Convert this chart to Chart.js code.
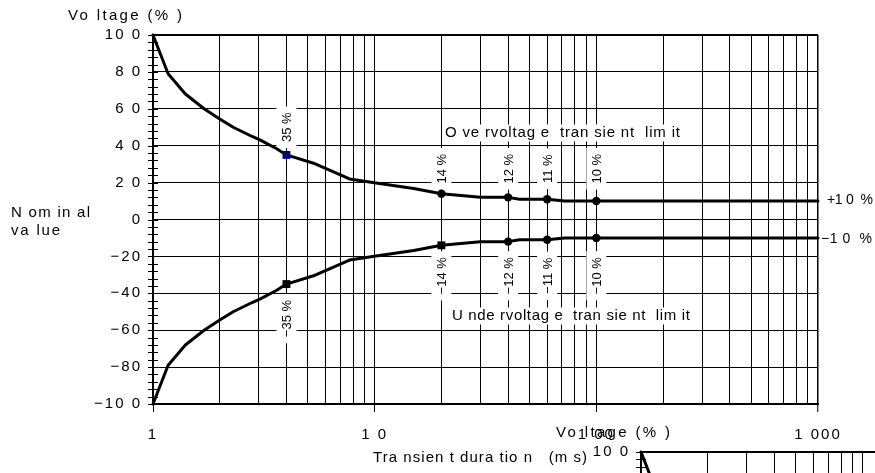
<!DOCTYPE html>
<html><head><meta charset="utf-8">
<script src="https://cdn.jsdelivr.net/npm/chart.js@4.4.1/dist/chart.umd.min.js"></script>
<style>
html,body{margin:0;padding:0;background:#fff;width:875px;height:473px;overflow:hidden;position:relative}
.wrap{position:absolute;width:875px;height:473px}
canvas{display:block}
</style></head><body>
<div class="wrap" style="left:0;top:0"><canvas id="c1" width="875" height="473"></canvas></div>
<div class="wrap" style="left:488px;top:417px"><canvas id="c2" width="875" height="473"></canvas></div>
<script>
// ---------------- data ----------------
const durations  = [1, 1.17, 1.4, 1.7, 2, 2.3, 2.8, 3.05, 3.6, 4, 5.3, 7.7, 10.5, 15, 20, 30, 40, 45, 60, 72, 100, 1000];
const overLimit  = [100, 79, 68, 60, 54.5, 50, 45, 43, 38.5, 35, 30.5, 22, 19.5, 16.8, 14, 12, 12, 11, 11, 10, 10, 10];
const underLimit = [-100, -79, -68, -60, -54.5, -50, -45, -43, -38.5, -35, -30.5, -22, -19.5, -16.8, -14, -12, -12, -11, -11, -10, -10, -10];
const markedDurations = [4, 20, 40, 60, 100];
const overMarkerStyles  = ['rect', 'circle', 'circle', 'circle', 'circle'];
const underMarkerStyles = ['rect', 'rect', 'circle', 'circle', 'circle'];
const xGridValues = [1, 2, 3, 4, 5, 6, 7, 8, 9, 10, 20, 30, 40, 50, 60, 70, 80, 90, 100, 200, 300, 400, 500, 600, 700, 800, 900, 1000];
const xTickValues = [1, 10, 100, 1000];
const xTickLabels = ['1', '1 0', '1 00', '1 000'];
const yTickValues = [100, 80, 60, 40, 20, 0, -20, -40, -60, -80, -100];
const yTickLabels = ['10 0', '8 0', '6 0', '4 0', '2 0', '0', '\u221220', '\u221240', '\u221260', '\u221280', '\u221210 0'];
const yMinorStep = 4;
const yAxisTitle = 'Vo ltage (% )';
const xAxisTitle = 'Tra nsien t dura tio n   (m s)';
const nominalLines = ['N om in al', 'va lue'];
const overText = 'O ve rvoltag e  tran sie nt  lim it';
const underText = 'U nde rvoltag e  tran sie nt  lim it';
const plusTenText = '+1 0  %';
const minusTenText = '\u22121 0  %';

// ---------------- styles ----------------
const FONT = "'Liberation Sans', Arial, Helvetica, sans-serif";
const labelCentersOver = [50, 27.5, 27.5, 27.5, 27.5];
const labelCentersUnder = [-53.7, -30.5, -30.5, -30.5, -30.5];

function fitText(ctx, text, left, cy, width, size) {
  ctx.font = size + 'px ' + FONT;
  ctx.letterSpacing = '0px';
  const w0 = ctx.measureText(text).width;
  const n = [...text].length;
  const ls = (width && n > 1) ? (width - w0) / (n - 1) : 0;
  ctx.letterSpacing = ls.toFixed(2) + 'px';
  ctx.textAlign = 'left';
  ctx.textBaseline = 'middle';
  ctx.fillStyle = '#000';
  ctx.fillText(text, left, cy);
  ctx.letterSpacing = '0px';
}
function boxText(ctx, text, left, cy, width, size) {
  ctx.fillStyle = '#fff';
  ctx.fillRect(left - 2, cy - 8.5, width + 4, 17);
  fitText(ctx, text, left, cy, width, size);
}

const decorPlugin = {
  id: 'decor',
  beforeDraw(chart) { chart.ctx.letterSpacing = '2px'; },
  beforeDatasetsDraw(chart) {
    const ctx = chart.ctx;
    const xs = chart.scales.x, ys = chart.scales.y;
    ctx.save();
    ctx.letterSpacing = '0px';
    // minor ticks on the y axis
    ctx.strokeStyle = '#000'; ctx.lineWidth = 1;
    ctx.beginPath();
    for (let v = -100; v <= 100; v += yMinorStep) {
      const py = Math.round(ys.getPixelForValue(v)) + 0.5;
      ctx.moveTo(xs.left - 5, py); ctx.lineTo(xs.left + 5, py);
    }
    ctx.stroke();
    // rotated value labels
    const drawRot = (t, px, py) => {
      ctx.save();
      ctx.translate(px, py); ctx.rotate(-Math.PI / 2);
      ctx.font = '13px ' + FONT; ctx.letterSpacing = '0px';
      const w = ctx.measureText(t).width;
      ctx.fillStyle = '#fff';
      ctx.fillRect(-w / 2 - 6, -10, w + 12, 20);
      ctx.fillStyle = '#000'; ctx.textAlign = 'center'; ctx.textBaseline = 'middle';
      ctx.fillText(t, 0, 1);
      ctx.restore();
    };
    markedDurations.forEach((d, k) => {
      const idx = durations.indexOf(d);
      const px = xs.getPixelForValue(d);
      drawRot(overLimit[idx] + ' %', px, ys.getPixelForValue(labelCentersOver[k]));
      drawRot('\u2212' + Math.abs(underLimit[idx]) + ' %', px, ys.getPixelForValue(labelCentersUnder[k]));
    });
    // curve names
    boxText(ctx, overText, 445, 133, 235, 15);
    boxText(ctx, underText, 452, 316, 238, 15);
    // free texts
    fitText(ctx, yAxisTitle, 68, 16, 114, 15);
    fitText(ctx, nominalLines[0], 11, 213, 79, 15);
    fitText(ctx, nominalLines[1], 11, 231, 49, 15);
    fitText(ctx, plusTenText, 827, ys.getPixelForValue(10) - 1, 46, 14);
    fitText(ctx, minusTenText, 821, ys.getPixelForValue(-10) + 1, 51, 14);
    fitText(ctx, xAxisTitle, 373, 458, 214, 15);
    ctx.restore();
  },
  afterDraw(chart) { chart.ctx.letterSpacing = '0px'; }
};

function pointProps(styles, firstColor) {
  const radius = durations.map(() => 0);
  const style = durations.map(() => 'circle');
  const color = durations.map(() => '#000');
  markedDurations.forEach((d, k) => {
    const idx = durations.indexOf(d);
    style[idx] = styles[k];
    radius[idx] = styles[k] === 'rect' ? 5.6 : 4.2;
    if (k === 0) color[idx] = firstColor;
  });
  return { radius, style, color };
}

function buildChart(canvas) {
  const po = pointProps(overMarkerStyles, '#000080');
  const pu = pointProps(underMarkerStyles, '#000');
  const mkDs = (vals, p) => ({
    data: durations.map((d, i) => ({ x: d, y: vals[i] })),
    borderColor: '#000', borderWidth: 3, tension: 0, fill: false,
    borderJoinStyle: 'round', borderCapStyle: 'round',
    pointRadius: p.radius, pointStyle: p.style,
    pointBackgroundColor: p.color, pointBorderColor: p.color, pointBorderWidth: 0,
    clip: false
  });
  return new Chart(canvas, {
    type: 'line',
    data: { datasets: [mkDs(overLimit, po), mkDs(underLimit, pu)] },
    options: {
      responsive: false, animation: false, devicePixelRatio: 1,
      layout: { padding: { left: 0, top: 35, right: 57, bottom: 0 } },
      plugins: { legend: { display: false }, tooltip: { enabled: false }, title: { display: false } },
      scales: {
        x: {
          type: 'logarithmic', min: 1, max: 1000, position: 'bottom',
          afterBuildTicks: s => { s.ticks = xGridValues.map(v => ({ value: v })); },
          afterFit: s => { s.height = 69; },
          ticks: {
            autoSkip: false, maxRotation: 0, minRotation: 0, padding: 14, color: '#000',
            font: { family: FONT, size: 15 },
            callback: v => { const k = xTickValues.indexOf(v); return k >= 0 ? xTickLabels[k] : ''; }
          },
          grid: {
            color: '#000',
            lineWidth: c => (c.tick && c.tick.value === 1000) ? 1.5 : 1,
            drawTicks: true, tickLength: 8, tickWidth: 1,
            tickColor: c => (c.tick && xTickValues.includes(c.tick.value)) ? '#000' : 'rgba(0,0,0,0)'
          },
          border: { display: true, color: '#000', width: 2 }
        },
        y: {
          type: 'linear', min: -100, max: 100, position: 'left',
          afterBuildTicks: s => { s.ticks = yTickValues.map(v => ({ value: v })); },
          afterFit: s => { s.width = 153; },
          ticks: {
            padding: 11, color: '#000', font: { family: FONT, size: 15 },
            callback: v => { const k = yTickValues.indexOf(v); return k >= 0 ? yTickLabels[k] : ''; }
          },
          grid: {
            color: '#000',
            lineWidth: c => (c.tick && Math.abs(c.tick.value) === 100) ? 2 : 1,
            drawTicks: false
          },
          border: { display: true, color: '#000', width: 2 }
        }
      }
    },
    plugins: [decorPlugin]
  });
}
buildChart(document.getElementById('c1'));
buildChart(document.getElementById('c2'));
</script>
</body></html>
